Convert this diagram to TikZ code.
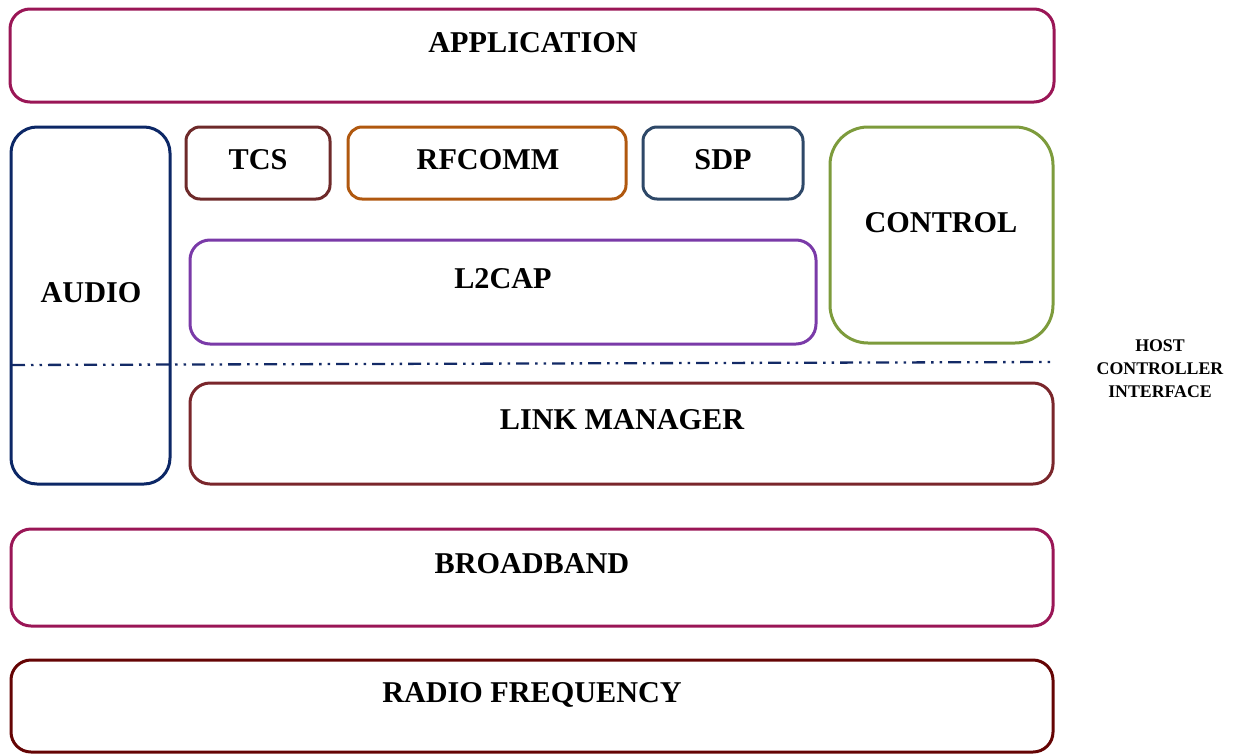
\documentclass[tikz,border=0pt]{standalone}
\usepackage{fontspec}
\setmainfont{Liberation Serif}
\definecolor{cApp}{HTML}{9A1656}
\definecolor{cAudio}{HTML}{0C2766}
\definecolor{cTcs}{HTML}{6E2A2A}
\definecolor{cRf}{HTML}{B0580F}
\definecolor{cSdp}{HTML}{2E4868}
\definecolor{cCtl}{HTML}{7D9B3C}
\definecolor{cL2}{HTML}{7A3AA8}
\definecolor{cLm}{HTML}{7A262B}
\definecolor{cRadio}{HTML}{650404}
\definecolor{cHci}{HTML}{132A66}
\tikzset{
  layer/.style={draw=#1, line width=3pt, rounded corners=20pt, anchor=north west,
    inner sep=0pt, outer sep=0pt},
  lbl/.style={font=\fontsize{30.2}{33}\selectfont\bfseries, inner sep=0pt, anchor=center},
  small/.style={font=\fontsize{17.8}{23}\selectfont\bfseries, align=center, inner sep=0pt},
  hci/.style={draw=cHci, line width=2.3pt,
    dash pattern=on 13pt off 6pt on 2.5pt off 6pt on 2.5pt off 6pt}
}
\begin{document}
\begin{tikzpicture}[x=1pt, y=-1pt]
\useasboundingbox (0,0) rectangle (1238,755);
% protocol stack boxes
\node[layer=cApp, minimum width=1044pt, minimum height=93pt] (app) at (10,9) {};
\node[layer=cAudio, rounded corners=26pt, minimum width=159pt, minimum height=357pt] (audio) at (11,127) {};
\node[layer=cTcs, rounded corners=14pt, minimum width=144pt, minimum height=72pt] (tcs) at (186,127) {};
\node[layer=cRf, rounded corners=14pt, minimum width=278pt, minimum height=72pt] (rfcomm) at (348,127) {};
\node[layer=cSdp, rounded corners=14pt, minimum width=160pt, minimum height=72pt] (sdp) at (643,127) {};
\node[layer=cCtl, rounded corners=38pt, minimum width=223pt, minimum height=216pt] (control) at (830,127) {};
\node[layer=cL2, minimum width=626pt, minimum height=104pt] (l2cap) at (190,240) {};
\node[layer=cLm, minimum width=863pt, minimum height=101pt] (lm) at (190,383) {};
\node[layer=cApp, minimum width=1042pt, minimum height=97pt] (bb) at (11,529) {};
\node[layer=cRadio, minimum width=1042pt, minimum height=92pt] (radio) at (11,660) {};
% labels
\node[lbl] (tApp) at (533,43) {APPLICATION};
\node[lbl] (tAudio) at (91,293) {AUDIO};
\node[lbl] (tTcs) at (258,160) {TCS};
\node[lbl] (tRf) at (488,160) {RFCOMM};
\node[lbl] (tSdp) at (723,160) {SDP};
\node[lbl] (tCtl) at (941,223) {CONTROL};
\node[lbl] (tL2) at (503,279) {L2CAP};
\node[lbl] (tLm) at (622,420) {LINK MANAGER};
\node[lbl] (tBb) at (532,564) {BROADBAND};
\node[lbl] (tRadio) at (532,695) {RADIO FREQUENCY};
% host controller interface boundary
\coordinate (hciL) at (12,365);
\coordinate (hciR) at (1053,362);
\draw[hci] (hciL) -- (hciR);
\node[small] (tHci) at (1160,369) {HOST\\CONTROLLER\\INTERFACE};
\end{tikzpicture}
\end{document}
